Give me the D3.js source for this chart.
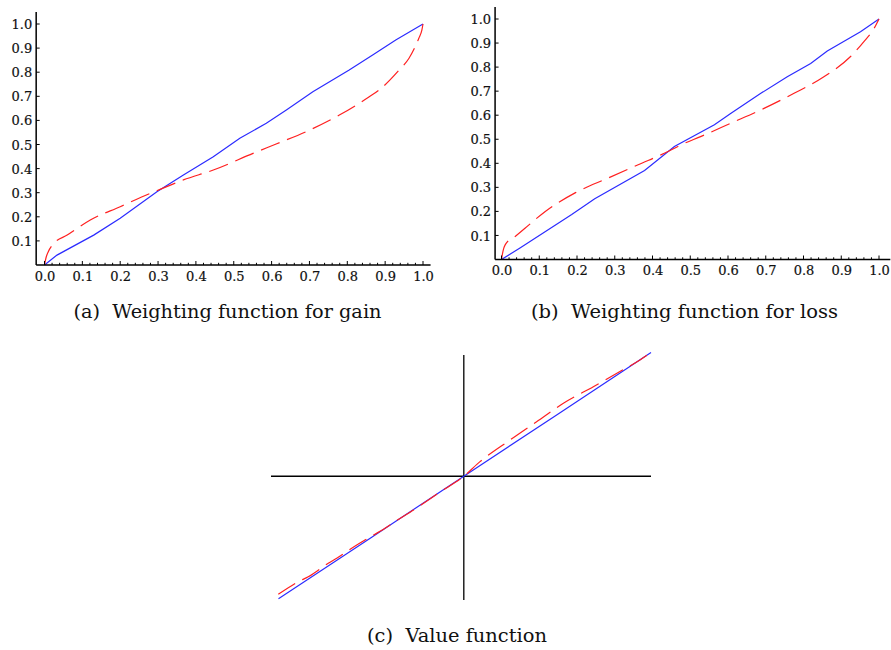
<!DOCTYPE html>
<html>
<head>
<meta charset="utf-8">
<script src="https://cdn.jsdelivr.net/npm/d3@7"></script>
<style>
  body { margin: 0; background: #fff; }
</style>
</head>
<body>
<div id="chart"></div>
<script>
// ---- data ----
var tickValues = [0, 0.1, 0.2, 0.3, 0.4, 0.5, 0.6, 0.7, 0.8, 0.9, 1.0];
var yTickValues = [0.1, 0.2, 0.3, 0.4, 0.5, 0.6, 0.7, 0.8, 0.9, 1.0];

// (a) gain
var gainBlue = [[0,0],[0.033,0.041],[0.13,0.124],[0.2,0.194],[0.297,0.304],[0.367,0.373],
  [0.446,0.449],[0.516,0.526],[0.586,0.588],[0.639,0.643],[0.709,0.719],[0.805,0.809],
  [0.867,0.871],[0.928,0.934],[1,1]];
var gainRed = [[0,0],[0.004,0.03],[0.01,0.055],[0.025,0.09],[0.06,0.124],[0.121,0.187],[0.2,0.242],
  [0.279,0.297],[0.323,0.325],[0.367,0.353],[0.446,0.394],[0.551,0.463],[0.612,0.502],
  [0.691,0.553],[0.779,0.622],[0.858,0.698],[0.884,0.726],[0.937,0.809],[0.963,0.858],
  [0.989,0.941],[0.997,0.975],[1,1]];

// (b) loss
var lossBlue = [[0,0],[0.05,0.049],[0.186,0.187],[0.247,0.253],[0.379,0.37],[0.458,0.47],
  [0.564,0.56],[0.608,0.608],[0.687,0.691],[0.757,0.76],[0.819,0.815],[0.863,0.867],
  [0.951,0.947],[1,1]];
var lossRed = [[0,0],[0.004,0.035],[0.01,0.062],[0.037,0.097],[0.063,0.131],[0.116,0.2],
  [0.195,0.277],[0.283,0.339],[0.362,0.394],[0.441,0.449],[0.476,0.477],[0.529,0.512],
  [0.608,0.567],[0.687,0.622],[0.775,0.691],[0.854,0.76],[0.924,0.843],[0.96,0.906],
  [0.987,0.961],[1,1]];

// (c) value function
var valueBlue = [[-0.99,-0.99],[-0.5,-0.5],[0,0],[0.5,0.5],[1.0,1.0]];
var valueRed = [[-0.991,-0.954],[-0.884,-0.852],[-0.831,-0.812],[-0.724,-0.703],[-0.679,-0.663],
  [-0.572,-0.555],[-0.528,-0.515],[-0.421,-0.42],[-0.368,-0.367],[-0.261,-0.265],[-0.13,-0.13],
  [0,0],[0.0865,0.118],[0.247,0.293],[0.389,0.441],[0.532,0.59],[0.692,0.724],
  [0.834,0.846],[0.941,0.94],[0.99,0.99]];

var captions = ["(a)  Weighting function for gain", "(b)  Weighting function for loss", "(c)  Value function"];

var width = 891, height = 650;
var blue = "#2b2bff", red = "#ff2020";
var serif = "'DejaVu Serif', serif";

var svg = d3.select("#chart").append("svg")
  .attr("width", width).attr("height", height);

function styleTick(sel) {
  sel.attr("font-family", serif).style("font-family", serif).style("font-size", "13px")
    .style("fill", "#111").style("stroke", "#111").style("stroke-width", "0.2");
}

function drawWeighting(xRange, yRange, blueData, redData, axisX, xEnd, yEnd) {
  var xScale = d3.scaleLinear().domain([0, 1]).range(xRange);
  var yScale = d3.scaleLinear().domain([0, 1]).range(yRange);
  var g = svg.append("g");

  var line = d3.line()
    .x(function(d) { return xScale(d[0]); })
    .y(function(d) { return yScale(d[1]); });

  g.append("path").datum(blueData).attr("d", line)
    .attr("fill", "none").attr("stroke", blue).attr("stroke-width", 1.2);
  g.append("path").datum(redData).attr("d", line.curve(d3.curveMonotoneX))
    .attr("fill", "none").attr("stroke", red).attr("stroke-width", 1.2)
    .attr("stroke-dasharray", "20,8");

  // x axis
  var xAxis = d3.axisBottom(xScale).tickValues(tickValues).tickSize(0)
    .tickFormat(d3.format(".1f"));
  var xg = g.append("g").attr("transform", "translate(0," + yScale(0) + ")").call(xAxis);
  xg.attr("font-family", null);
  xg.select(".domain").remove();
  xg.selectAll("text").attr("dy", "1.05em").attr("y", 2).call(styleTick);
  g.append("line")
    .attr("x1", xScale(axisX)).attr("x2", xScale(xEnd))
    .attr("y1", yScale(0)).attr("y2", yScale(0))
    .attr("stroke", "#000").attr("stroke-width", 1.5);
  var minor = d3.range(0, 51).map(function(i) { return i / 50; });
  g.selectAll(".xtick").data(minor).enter().append("line")
    .attr("x1", function(d) { return xScale(d); })
    .attr("x2", function(d) { return xScale(d); })
    .attr("y1", yScale(0))
    .attr("y2", function(d, i) { return yScale(0) - (i % 5 === 0 ? 4 : 2.2); })
    .attr("stroke", "#000").attr("stroke-width", 1);

  // y axis
  var yAxis = d3.axisLeft(yScale).tickValues(yTickValues).tickSize(0)
    .tickFormat(d3.format(".1f"));
  var yg = g.append("g").attr("transform", "translate(" + xScale(axisX) + ",0)").call(yAxis);
  yg.attr("font-family", null);
  yg.select(".domain").remove();
  yg.selectAll("text").attr("x", -4).attr("dy", "0.35em").call(styleTick);
  g.append("line")
    .attr("x1", xScale(axisX)).attr("x2", xScale(axisX))
    .attr("y1", yScale(yEnd)).attr("y2", yScale(0))
    .attr("stroke", "#000").attr("stroke-width", 1.5);
  g.selectAll(".ytick").data(yTickValues).enter().append("line")
    .attr("x1", xScale(axisX)).attr("x2", xScale(axisX) + 3.5)
    .attr("y1", function(d) { return yScale(d); })
    .attr("y2", function(d) { return yScale(d); })
    .attr("stroke", "#000").attr("stroke-width", 1);
}

drawWeighting([44.5, 423], [265, 24], gainBlue, gainRed, -0.022, 1.02, 1.05);
drawWeighting([501.5, 879], [259.5, 19], lossBlue, lossRed, -0.017, 1.03, 1.05);

// (c) value function
var vx = d3.scaleLinear().domain([-1.03, 1]).range([271, 651]);
var vy = d3.scaleLinear().domain([-1.0, 0.98]).range([600, 355]);
var gc = svg.append("g");
gc.append("line").attr("x1", vx(-1.03)).attr("x2", vx(1)).attr("y1", vy(0)).attr("y2", vy(0))
  .attr("stroke", "#000").attr("stroke-width", 1.3);
gc.append("line").attr("x1", vx(0)).attr("x2", vx(0)).attr("y1", vy(0.98)).attr("y2", vy(-1.0))
  .attr("stroke", "#000").attr("stroke-width", 1.3);
var vline = d3.line()
  .x(function(d) { return vx(d[0]); })
  .y(function(d) { return vy(d[1]); });
gc.append("path").datum(valueBlue).attr("d", vline)
  .attr("fill", "none").attr("stroke", blue).attr("stroke-width", 1.2);
gc.append("path").datum(valueRed).attr("d", vline.curve(d3.curveMonotoneX))
  .attr("fill", "none").attr("stroke", red).attr("stroke-width", 1.2)
  .attr("stroke-dasharray", "20,8");

// captions
var capPos = [[227.5, 318, 308], [684.5, 318, 307], [457, 642, 180]];
svg.selectAll(".caption").data(captions).enter().append("text")
  .attr("class", "caption")
  .attr("x", function(d, i) { return capPos[i][0] - capPos[i][2] / 2; })
  .attr("y", function(d, i) { return capPos[i][1]; })
  .attr("textLength", function(d, i) { return capPos[i][2]; })
  .attr("lengthAdjust", "spacingAndGlyphs")
  .attr("font-family", serif)
  .style("font-family", serif)
  .style("font-size", "19px")
  .style("fill", "#111")
  .style("white-space", "pre")
  .text(function(d) { return d; });
</script>
</body>
</html>
